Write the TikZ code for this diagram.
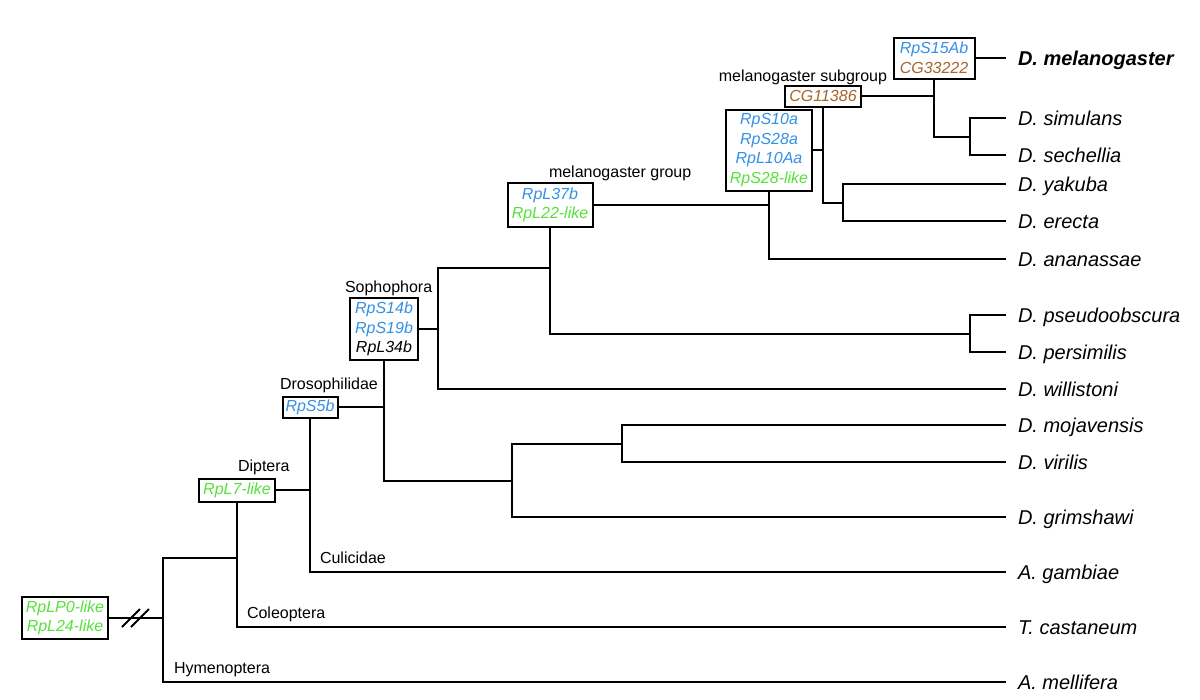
\documentclass[tikz,border=0pt]{standalone}
\usepackage{fontspec}
\setmainfont{Liberation Sans}
\definecolor{gblue}{HTML}{3391E6}
\definecolor{ggreen}{HTML}{55E23A}
\definecolor{gbrown}{HTML}{A6652B}
\begin{document}
\begin{tikzpicture}[x=0.75pt,y=-0.75pt,line width=1.5pt,
  box/.style={draw,inner sep=0pt,align=center,font=\fontsize{12}{14.6}\selectfont\itshape},
  clade/.style={anchor=base west,inner sep=0pt,font=\fontsize{12}{14.4}\selectfont},
  sp/.style={anchor=base west,inner sep=0pt,font=\fontsize{15}{18}\selectfont\itshape}]
\fill[white] (0,0) rectangle (1200,700);
\useasboundingbox (0,0) rectangle (1200,700);

% boxes
\node[box,minimum width=60.75pt,minimum height=30.75pt] (b1) at (934,58)
  {\textcolor{gblue}{RpS15Ab}\\\textcolor{gbrown}{CG33222}};
\node[box,minimum width=57pt,minimum height=15.75pt] (b2) at (823,96)
  {\textcolor{gbrown}{CG11386}};
\node[box,minimum width=64.5pt,minimum height=60.75pt] (b3) at (769,150)
  {\textcolor{gblue}{RpS10a}\\\textcolor{gblue}{RpS28a}\\\textcolor{gblue}{RpL10Aa}\\\textcolor{ggreen}{RpS28-like}};
\node[box,minimum width=63.75pt,minimum height=33pt] (b4) at (550,205)
  {\textcolor{gblue}{RpL37b}\\\textcolor{ggreen}{RpL22-like}};
\node[box,minimum width=51pt,minimum height=46.5pt] (b5) at (384,329)
  {\textcolor{gblue}{RpS14b}\\\textcolor{gblue}{RpS19b}\\RpL34b};
\node[box,minimum width=41.25pt,minimum height=15.75pt] (b6) at (310,407)
  {\textcolor{gblue}{RpS5b}};
\node[box,minimum width=57pt,minimum height=17.25pt] (b7) at (237,490)
  {\textcolor{ggreen}{RpL7-like}};
\node[box,minimum width=64.5pt,minimum height=31.5pt] (b8) at (65,618)
  {\textcolor{ggreen}{RpLP0-like}\\\textcolor{ggreen}{RpL24-like}};

% clade labels
\node[clade,anchor=base east] (lsub) at (888,81) {melanogaster subgroup};
\node[clade] (lgrp) at (548,177) {melanogaster group};
\node[clade] (lsop) at (344,292) {Sophophora};
\node[clade] (ldro) at (279,389) {Drosophilidae};
\node[clade] (ldip) at (237,471) {Diptera};
\node[clade] (lcul) at (319,563) {Culicidae};
\node[clade] (lcol) at (246,618) {Coleoptera};
\node[clade] (lhym) at (173,673) {Hymenoptera};

% tip ends
\coordinate (tmel) at (1006,58);
\coordinate (tsim) at (1006,118);
\coordinate (tsec) at (1006,155);
\coordinate (tyak) at (1006,184);
\coordinate (tere) at (1006,221);
\coordinate (tana) at (1006,259);
\coordinate (tpse) at (1006,315);
\coordinate (tper) at (1006,352);
\coordinate (twil) at (1006,389);
\coordinate (tmoj) at (1006,425);
\coordinate (tvir) at (1006,462);
\coordinate (tgri) at (1006,517);
\coordinate (tgam) at (1006,572);
\coordinate (tcas) at (1006,627);
\coordinate (tmll) at (1006,682);

% species labels
\node[sp,font=\fontsize{15}{18}\selectfont\bfseries\itshape] (smel) at (1017,65.2) {D. melanogaster};
\node[sp] (ssim) at (1017,125.2) {D. simulans};
\node[sp] (ssec) at (1017,162.2) {D. sechellia};
\node[sp] (syak) at (1017,191.2) {D. yakuba};
\node[sp] (sere) at (1017,228.2) {D. erecta};
\node[sp] (sana) at (1017,266.2) {D. ananassae};
\node[sp] (spse) at (1017,322.2) {D. pseudoobscura};
\node[sp] (sper) at (1017,359.2) {D. persimilis};
\node[sp] (swil) at (1017,396.2) {D. willistoni};
\node[sp] (smoj) at (1017,432.2) {D. mojavensis};
\node[sp] (svir) at (1017,469.2) {D. virilis};
\node[sp] (sgri) at (1017,524.2) {D. grimshawi};
\node[sp] (sgam) at (1017,579.2) {A. gambiae};
\node[sp] (scas) at (1017,634.2) {T. castaneum};
\node[sp] (smll) at (1017,689.2) {A. mellifera};

% internal junctions
\coordinate (n2) at (970,137);
\coordinate (n3) at (843,203);
\coordinate (n5) at (970,334);
\coordinate (n6) at (438,268);
\coordinate (n7) at (512,481);
\coordinate (n8) at (622,444);
\coordinate (r) at (163,558);

% connectors
\draw (b1.east) -- (tmel);
\draw (b1.south) |- (n2);
\draw (tsim) -| (n2) |- (tsec);
\draw (b2.east) -- (b2.east -| b1.south);
\draw (b2.south) |- (n3);
\draw (tyak) -| (n3) |- (tere);
\draw (b3.east) -- (b3.east -| b2.south);
\draw (b3.south) |- (tana);
\draw (b4.east) -- (b4.east -| b3.south);
\draw (b4.south) |- (n5);
\draw (tpse) -| (n5) |- (tper);
\draw (b5.east) -- (b5.east -| n6);
\draw (b4.south |- n6) -- (n6) |- (twil);
\draw (b5.south) |- (n7);
\draw (tmoj) -| (n8) |- (tvir);
\draw (n8) -- (n7 |- n8) |- (tgri);
\draw (b6.east) -- (b6.east -| b5.south);
\draw (b6.south) |- (tgam);
\draw (b7.east) -- (b7.east -| b6.south);
\draw (b7.south) |- (tcas);
\draw (b7.south |- r) -- (r) |- (tmll);
\draw (b8.east) -- (b8.east -| r);
% break mark
\draw (122,627) -- (140,609);
\draw (131,627) -- (149,609);
\end{tikzpicture}
\end{document}
